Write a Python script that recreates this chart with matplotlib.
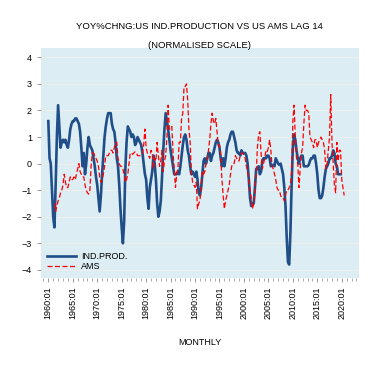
import numpy as np
import matplotlib
matplotlib.use("Agg")
import matplotlib.pyplot as plt
from matplotlib.ticker import MultipleLocator

plt.rcParams['font.family'] = ['Liberation Sans', 'DejaVu Sans']

# quarterly readings, IND.PROD from 1960Q1, AMS from 1961Q2
ind_prod = [
    1.6, 0.2, 0.0, -1.0,
    -2.0, -2.4, -0.8, 1.0,
    2.2, 1.4, 0.6, 0.8,
    0.9, 0.8, 0.9, 0.7,
    0.6, 0.9, 1.3, 1.5,
    1.6, 1.6, 1.7, 1.7,
    1.6, 1.5, 1.2, 0.6,
    -0.1, 0.4, -0.4, 0.0,
    0.6, 1.0, 0.7, 0.6,
    0.5, 0.2, -0.1, -0.5,
    -0.8, -1.3, -1.8, -1.2,
    -0.4, 0.3, 1.0, 1.4,
    1.7, 1.9, 1.9, 1.9,
    1.5, 1.3, 1.2, 0.8,
    0.2, -0.1, -0.8, -1.7,
    -2.4, -3.0, -2.2, -0.2,
    0.8, 1.4, 1.3, 1.2,
    1.0, 1.1, 1.0, 0.7,
    0.8, 1.0, 0.9, 0.8,
    0.7, 0.4, 0.0, -0.4,
    -0.6, -1.3, -1.7, -0.9,
    -0.6, -0.3, 0.3, 0.0,
    -0.6, -1.5, -2.0, -1.8,
    -1.4, -0.5, 0.5, 1.3,
    1.9, 1.6, 1.3, 0.9,
    0.5, 0.2, -0.1, -0.4,
    -0.4, -0.4, -0.3, -0.4,
    -0.1, 0.3, 0.7, 1.0,
    1.1, 0.9, 0.5, 0.3,
    -0.1, -0.4, -0.3, -0.4,
    -0.5, -0.3, -0.6, -1.1,
    -1.2, -0.9, -0.4, 0.1,
    0.2, 0.0, 0.2, 0.4,
    0.4, 0.1, 0.3, 0.4,
    0.6, 0.8, 0.9, 0.8,
    0.6, 0.2, -0.1, 0.2,
    -0.1, 0.2, 0.6, 0.8,
    0.9, 1.1, 1.2, 1.2,
    1.0, 0.8, 0.5, 0.4,
    0.4, 0.3, 0.5, 0.4,
    0.4, 0.4, 0.3, 0.0,
    -0.6, -1.3, -1.6, -1.5,
    -1.5, -0.9, -0.2, -0.2,
    -0.1, -0.4, -0.3, 0.1,
    0.2, 0.2, 0.2, 0.3,
    0.3, 0.2, -0.1, -0.05,
    -0.05, -0.1, 0.2, 0.1,
    0.0, -0.05, 0.0, -0.2,
    -0.4, -0.9, -1.6, -2.8,
    -3.7, -3.8, -2.6, -0.8,
    0.6, 1.1, 0.9, 0.5,
    0.2, 0.0, 0.2, 0.3,
    0.3, -0.1, -0.1, -0.1,
    -0.1, -0.05, 0.1, 0.2,
    0.2, 0.3, 0.3, 0.0,
    -0.4, -1.0, -1.3, -1.3,
    -1.2, -0.9, -0.5, -0.2,
    -0.1, 0.0, 0.2, 0.2,
    0.3, 0.5, 0.4, 0.0,
    -0.1, -0.4, -0.4, -0.4,
]

ams = [
    -1.5, -1.8, -1.6,
    -1.4, -1.3, -1.1, -1.0,
    -0.8, -0.4, -0.7, -0.9,
    -0.9, -0.7, -0.5, -0.6,
    -0.6, -0.5, -0.6, -0.4,
    -0.2, 0.0, -0.3, -0.4,
    -0.5, -0.5, -0.8, -1.0,
    -1.1, -1.15, -1.0, -0.1,
    0.4, 0.4, 0.3, 0.2,
    0.1, -0.1, -0.5, -0.7,
    -0.6, -0.4, -0.1, 0.3,
    0.3, 0.3, 0.4, 0.5,
    0.5, 0.4, 0.6, 0.8,
    0.8, 0.2, 0.0, -0.1,
    -0.1, -0.2, -0.4, -0.7,
    -0.6, -0.4, 0.0, 0.4,
    0.4, 0.35, 0.4, 0.45,
    0.4, 0.3, 0.3, 0.3,
    0.3, 0.4, 0.7, 1.3,
    0.6, 0.4, 0.3, 0.2,
    0.5, 0.4, -0.2, 0.2,
    0.1, 0.8, 0.3, -0.1,
    0.1, 0.5, -0.3, 0.1,
    0.3, 1.0, 2.2, 1.3,
    1.3, 1.4, 0.4, -0.2,
    -0.9, -0.4, -0.2, 0.8,
    0.8, 1.7, 1.9, 2.9,
    2.9, 3.0, 2.4, 1.3,
    0.8, -0.3, -0.7, -0.8,
    -0.9, -0.7, -1.7, -1.5,
    -1.4, -0.9, -0.3, -0.4,
    -0.3, 0.0, 0.1, 0.5,
    0.9, 1.5, 1.9, 1.6,
    1.5, 1.7, 1.2, 0.7,
    0.7, 0.3, -0.6, -1.2,
    -1.7, -1.4, -1.2, -1.0,
    -0.8, -0.4, -0.1, 0.0,
    0.0, 0.3, 0.2, 0.1,
    0.1, 0.3, 0.4, 0.4,
    0.3, 0.2, -0.1, -0.3,
    -0.6, -1.0, -1.3, -1.7,
    -1.5, -1.0, -0.4, 0.6,
    1.1, 1.2, 0.4, -0.2,
    0.0, 0.2, 0.5, 0.45,
    0.6, 0.9, 0.5, -0.1,
    -0.2, -0.4, -0.6, -0.9,
    -1.0, -1.0, -1.2, -1.3,
    -1.3, -1.4, -1.2, -1.0,
    -1.0, -0.9, -0.8, -0.3,
    1.6, 2.2, 1.0, 0.2,
    0.0, -0.9, -0.2, 0.4,
    0.6, 1.5, 2.2, 2.0,
    2.0, 1.9, 1.0, 0.9,
    0.8, 0.6, 0.9, 0.9,
    0.6, 0.8, 0.9, 1.0,
    0.9, 0.8, 0.5, -0.2,
    0.0, 0.5, 1.0, 2.6,
    0.8, 0.0, -0.8, -1.1,
    0.8, 0.1, 0.5, 0.5,
    -0.6, -0.9, -1.2,
]

tick_years = list(range(1960, 2021, 5))
tick_labels = ["%d:01" % y for y in tick_years]

x_ip = 1960 + np.arange(len(ind_prod)) / 4.0
x_ams = 1961.25 + np.arange(len(ams)) / 4.0

fig = plt.figure(figsize=(3.83, 3.67), dpi=100)
ax = fig.add_axes([0.107, 0.243, 0.83, 0.626])
ax.set_facecolor("#dcedf3")

ax.plot(x_ip, ind_prod, color="#1f4e89", lw=1.9, label="IND.PROD.")
ax.plot(x_ams, ams, color="#ff0000", lw=0.9, ls=(0, (4, 2)), label="AMS")

ax.set_xlim(1958.5, 2023.5)
ax.set_ylim(-4.3, 4.35)
ax.set_yticks(range(-4, 5))
ax.set_xticks(tick_years)
ax.set_xticklabels(tick_labels, rotation=90)
ax.xaxis.set_minor_locator(MultipleLocator(1))
ax.grid(axis="y", color="#eeeeee", lw=0.8)
ax.set_axisbelow(True)
for s in ax.spines.values():
    s.set_visible(False)
ax.tick_params(axis="both", labelsize=6.5, colors="#888888", labelcolor="black",
               length=3, width=0.6)
ax.tick_params(axis="x", which="minor", length=2, width=0.5, colors="#888888")

ax.set_xlabel("MONTHLY", fontsize=6.5, labelpad=13)
fig.text(0.522, 0.928, "YOY%CHNG:US IND.PRODUCTION VS US AMS LAG 14",
         ha="center", va="center", fontsize=6.8)
fig.text(0.522, 0.877, "(NORMALISED SCALE)", ha="center", va="center", fontsize=6.8)

ax.legend(loc="lower left", frameon=False, fontsize=6.5, handlelength=3.2,
          handletextpad=0.5, labelspacing=0.2, borderaxespad=0.3)

fig.savefig("out.png", dpi=100)
